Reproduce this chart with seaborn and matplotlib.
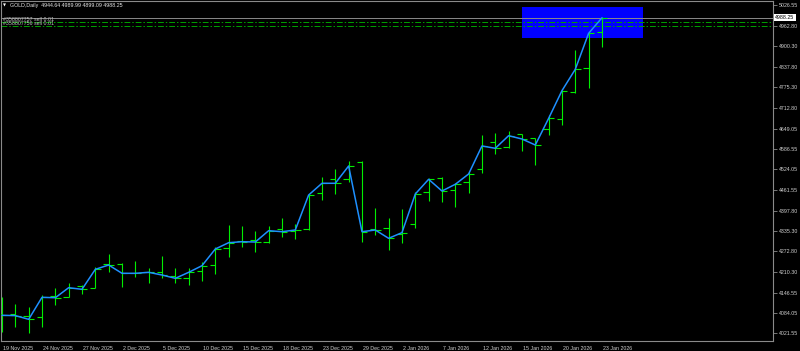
import numpy as np
import pandas as pd
import matplotlib
matplotlib.use("Agg")
import matplotlib.pyplot as plt
import matplotlib.transforms as mtransforms
from matplotlib.patches import Rectangle
import seaborn as sns

# ---------------- data ----------------
bar_open = [4080.0, 4080.7, 4074.6, 4070.5, 4135.8, 4133.7, 4166.5, 4161.3, 4232.9, 4233.9,
            4207.3, 4209.4, 4208.4, 4197.1, 4191.9, 4212.5, 4230.8, 4282.0, 4305.3, 4307.4,
            4301.3, 4340.2, 4336.0, 4340.2, 4450.5, 4493.4, 4493.4, 4547.4, 4340.0, 4343.3,
            4325.0, 4355.5, 4455.5, 4496.5, 4460.6, 4485.2, 4524.0, 4606.8, 4593.3, 4632.2,
            4619.0, 4648.0, 4678.2, 4761.9, 4833.5, 4944.64]
bar_high = [4133.7, 4111.3, 4103.1, 4138.9, 4159.3, 4174.7, 4169.6, 4225.8, 4264.5, 4236.0,
            4243.1, 4220.7, 4259.4, 4220.7, 4220.7, 4239.1, 4285.0, 4353.4, 4350.3, 4335.0,
            4350.3, 4373.9, 4356.5, 4448.4, 4499.5, 4525.0, 4549.5, 4548.0, 4404.6, 4373.9,
            4402.4, 4455.5, 4496.5, 4499.5, 4481.2, 4516.7, 4629.2, 4634.4, 4642.3, 4633.0,
            4620.0, 4690.0, 4767.0, 4889.6, 4943.8, 4989.99]
bar_low = [4026.5, 4039.9, 4021.5, 4039.9, 4108.3, 4131.8, 4142.0, 4159.3, 4210.3, 4164.4,
           4195.0, 4174.7, 4191.9, 4176.6, 4169.6, 4181.8, 4203.3, 4256.3, 4286.9, 4271.6,
           4298.0, 4315.7, 4309.6, 4338.0, 4430.0, 4448.4, 4486.1, 4302.2, 4322.8, 4276.8,
           4297.3, 4343.3, 4427.9, 4424.8, 4407.6, 4452.4, 4513.6, 4570.0, 4590.2, 4581.0,
           4537.2, 4630.0, 4660.0, 4756.9, 4772.2, 4899.09]
bar_close = [4076.7, 4075.8, 4064.4, 4131.8, 4130.6, 4161.3, 4156.3, 4217.6, 4230.8, 4205.4,
             4205.4, 4208.4, 4200.2, 4190.0, 4208.4, 4228.7, 4279.9, 4299.2, 4302.2, 4301.3,
             4336.0, 4332.9, 4338.1, 4445.3, 4481.2, 4481.2, 4534.2, 4332.9, 4338.1, 4312.6,
             4330.0, 4448.4, 4493.4, 4457.6, 4478.1, 4509.7, 4595.5, 4588.4, 4627.0, 4616.9,
             4598.5, 4680.0, 4764.9, 4830.4, 4940.7, 4988.25]

date_labels = ["19 Nov 2025", "24 Nov 2025", "27 Nov 2025", "2 Dec 2025", "5 Dec 2025",
               "10 Dec 2025", "15 Dec 2025", "18 Dec 2025", "23 Dec 2025", "29 Dec 2025",
               "2 Jan 2026", "7 Jan 2026", "12 Jan 2026", "15 Jan 2026", "20 Jan 2026",
               "23 Jan 2026"]
price_labels = ["5026.55", "4962.80", "4900.30", "4837.80", "4775.30", "4712.80", "4649.05",
                "4586.55", "4524.05", "4461.55", "4397.80", "4335.30", "4272.80", "4210.30",
                "4146.55", "4084.05", "4021.55"]

last_price = 4988.25
order_levels = [4974.5, 4964.1]
order_labels = ["#358807757 sell 0.01", "#358807756 sell 0.01"]
zone_bars = [39.0, 48.06]
zone_prices = [4927.3, 5020.4]
title = "GOLD,Daily  4944.64 4989.99 4899.09 4988.25"

# ---------------- style ----------------
sns.set_theme(style="dark", rc={
    "axes.facecolor": "black",
    "figure.facecolor": "black",
    "axes.grid": False,
})
plt.rcParams["font.family"] = ["Liberation Sans", "DejaVu Sans"]

df = pd.DataFrame({"idx": np.arange(len(bar_close)), "open": bar_open, "high": bar_high,
                   "low": bar_low, "close": bar_close})

fig = plt.figure(figsize=(8.0, 3.51), dpi=100)
ax = fig.add_axes([1 / 800, 10 / 351, 772 / 800, 340 / 351])
ax.set_facecolor("black")

bar_col = "#00ee00"
ax.vlines(df["idx"], df["low"], df["high"], colors=bar_col, linewidth=0.8, zorder=3)
ax.hlines(df["open"], df["idx"] - 0.4, df["idx"], colors=bar_col, linewidth=0.8, zorder=3)
ax.hlines(df["close"], df["idx"], df["idx"] + 0.4, colors=bar_col, linewidth=0.8, zorder=3)

sns.lineplot(data=df, x="idx", y="close", color="#1e90ff", linewidth=1.1, ax=ax, zorder=4)

ax.add_patch(Rectangle((zone_bars[0], zone_prices[0]), zone_bars[1] - zone_bars[0],
                       zone_prices[1] - zone_prices[0], facecolor="#0000ff",
                       edgecolor="none", zorder=1))

ax.axhline(last_price, color="#8a8a8a", linewidth=0.7, zorder=2)
for lvl in order_levels:
    ax.axhline(lvl, color="#00a000", linewidth=0.7, linestyle=(0, (6, 2, 1.5, 2)), zorder=2)

ax.set_xlim(-0.075, 57.83)
ax.set_ylim(3998.0, 5039.7)
ax.set_xlabel("")
ax.set_ylabel("")

for s in ax.spines.values():
    s.set_color("#8a8a8a")
    s.set_linewidth(0.8)
    s.set_visible(True)

fs = 3.8
txtcol = "#d0d0d0"
ax.yaxis.tick_right()
ax.set_yticks([float(v) for v in price_labels])
ax.set_yticklabels(price_labels)
ax.tick_params(axis="y", colors="#8a8a8a", labelcolor=txtcol, length=3, width=0.6,
               pad=1.5, labelsize=fs, direction="out")

tick_idx = list(range(0, len(bar_close), 3))
ax.set_xticks(tick_idx)
ax.set_xticklabels(date_labels, ha="left")
ax.tick_params(axis="x", colors="#8a8a8a", labelcolor=txtcol, length=3, width=0.6,
               pad=0.8, labelsize=fs, direction="out")
offset = mtransforms.ScaledTranslation(1.5 / 100, 0, fig.dpi_scale_trans)
for lab in ax.get_xticklabels():
    lab.set_transform(lab.get_transform() + offset)

# current price box
trans = mtransforms.blended_transform_factory(ax.transAxes, ax.transData)
ax.text(1.003, last_price, f"{last_price:.2f}", transform=trans, va="center", ha="left",
        fontsize=fs, color="black", zorder=6, clip_on=False,
        bbox=dict(facecolor="white", edgecolor="none", pad=0.8))

# order labels
for lvl, lab, dy in zip(order_levels, order_labels, [9.0, 5.5]):
    ax.text(0.002, lvl + dy, lab, transform=trans, va="center", ha="left",
            fontsize=fs, color="#c0c0c0", zorder=6)

# title
fig.text(3 / 800, 1 - 5.5 / 351, "\u25bc", fontsize=2.8, color="white", va="center",
         ha="left", family=["DejaVu Sans"])
fig.text(10 / 800, 1 - 5.5 / 351, title, fontsize=fs, color="#e8e8e8", va="center",
         ha="left")

fig.savefig("out.png", dpi=100, facecolor="black")
